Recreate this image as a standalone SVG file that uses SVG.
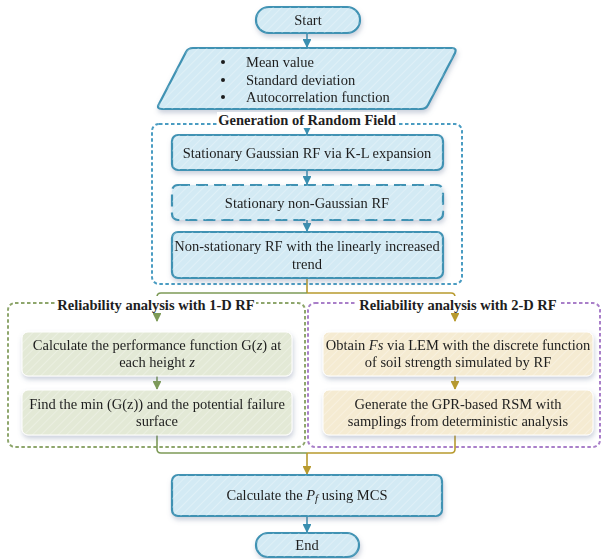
<svg xmlns="http://www.w3.org/2000/svg" width="603" height="559" viewBox="0 0 603 559">
<defs>
<pattern id="hatch" width="6" height="6" patternUnits="userSpaceOnUse" patternTransform="rotate(45)">
<rect width="6" height="6" fill="none"/>
<line x1="0" y1="0" x2="0" y2="6" stroke="#ffffff" stroke-opacity="0.45" stroke-width="1.2"/>
</pattern>
<filter id="sh" x="-10%" y="-20%" width="120%" height="150%">
<feGaussianBlur in="SourceAlpha" stdDeviation="2.5"/>
<feOffset dx="1" dy="2.5" result="b"/>
<feFlood flood-color="#6a7a9a" flood-opacity="0.35"/>
<feComposite in2="b" operator="in"/>
<feMerge><feMergeNode/><feMergeNode in="SourceGraphic"/></feMerge>
</filter>
<marker id="ab" viewBox="0 0 10 10" refX="9" refY="5" markerWidth="5.5" markerHeight="5.5" orient="auto"><path d="M0,0 L10,5 L0,10 z" fill="#3a8fb0"/></marker>
<marker id="ag" viewBox="0 0 10 10" refX="9" refY="5" markerWidth="5.5" markerHeight="5.5" orient="auto"><path d="M0,0 L10,5 L0,10 z" fill="#7d9a57"/></marker>
<marker id="ay" viewBox="0 0 10 10" refX="9" refY="5" markerWidth="5.5" markerHeight="5.5" orient="auto"><path d="M0,0 L10,5 L0,10 z" fill="#b89a2e"/></marker>
</defs>
<style>
text{font-family:"Liberation Serif","Times New Roman",serif;font-size:14.5px;fill:#1e1e1e;}
.c{text-anchor:middle;}
.t{font-weight:bold;}
.blue{fill:#d3eaf4;stroke:#3f92b3;stroke-width:2.2;}
.green{fill:#e3e9d6;stroke:#ffffff;stroke-width:1;}
.gold{fill:#f5ebd2;stroke:#ffffff;stroke-width:1;}
.hat{fill:url(#hatch);stroke:none;pointer-events:none;}
.cont{fill:none;stroke-width:2;stroke-dasharray:3.5 2.5;}
.lb{fill:none;stroke:#3f92b3;stroke-width:1.6;}
.lg{fill:none;stroke:#7d9a57;stroke-width:1.6;}
.ly{fill:none;stroke:#b89a2e;stroke-width:1.6;}
</style>

<g id="containers">
<rect id="grf" x="152" y="124" width="310" height="160" rx="7" class="cont" stroke="#4a9cc2"/>
<rect id="rel1" x="8" y="303" width="297" height="144" rx="7" class="cont" stroke="#8ea66c"/>
<rect id="rel2" x="308" y="303" width="292" height="144" rx="7" class="cont" stroke="#a97fc9"/>
</g>

<g id="connectors">
<line x1="307" y1="33" x2="307" y2="47" class="lb" marker-end="url(#ab)"/>
<line x1="307" y1="127" x2="307" y2="134" class="lb" marker-end="url(#ab)"/>
<line x1="307" y1="170" x2="307" y2="184" class="lb" marker-end="url(#ab)"/>
<line x1="307" y1="220" x2="307" y2="231" class="lb" marker-end="url(#ab)"/>
<line x1="307" y1="278" x2="307" y2="293" class="ly"/>
<path d="M307,293 H161 Q157,293 157,297 V303" class="lg"/>
<path d="M307,293 H451 Q455,293 455,297 V303" class="ly"/>
<line x1="157" y1="313" x2="157" y2="321" class="lg" marker-end="url(#ag)"/>
<line x1="455" y1="313" x2="455" y2="321" class="ly" marker-end="url(#ay)"/>
<line x1="157" y1="376" x2="157" y2="389" class="lg" marker-end="url(#ag)"/>
<line x1="455" y1="376" x2="455" y2="389" class="ly" marker-end="url(#ay)"/>
<path d="M157,435 V449 Q157,453 161,453 H307" class="lg"/>
<path d="M455,435 V449 Q455,453 451,453 H307" class="ly"/>
<line x1="307" y1="453" x2="307" y2="474" class="ly" marker-end="url(#ay)"/>
<line x1="307" y1="516" x2="307" y2="532" class="lb" marker-end="url(#ab)"/>
</g>

<g id="start" filter="url(#sh)">
<rect x="256" y="7" width="104" height="26" rx="13" class="blue"/>
<rect x="256" y="7" width="104" height="26" rx="13" class="hat"/>
<text x="308" y="25" class="c">Start</text>
</g>

<g id="input" filter="url(#sh)">
<path d="M193,48 H452 Q457,48 455,53 L428,105 Q426,109 421,109 H162 Q156,109 159,104 L186,52 Q188,48 193,48 Z" class="blue" stroke-width="1.8"/>
<path d="M193,48 H452 Q457,48 455,53 L428,105 Q426,109 421,109 H162 Q156,109 159,104 L186,52 Q188,48 193,48 Z" class="hat"/>
<circle cx="223" cy="62" r="2" fill="#1e1e1e"/>
<circle cx="223" cy="80" r="2" fill="#1e1e1e"/>
<circle cx="223" cy="97" r="2" fill="#1e1e1e"/>
<text x="246" y="67">Mean value</text>
<text x="246" y="85">Standard deviation</text>
<text x="246" y="102">Autocorrelation function</text>
</g>

<g id="grf-title">
<rect x="217" y="112" width="180" height="16" fill="#ffffff"/>
<text x="307" y="125" class="c t">Generation of Random Field</text>
</g>

<g id="kl" filter="url(#sh)">
<rect x="172" y="135" width="271" height="35" rx="6" class="blue"/>
<rect x="172" y="135" width="271" height="35" rx="6" class="hat"/>
<text x="307" y="158" class="c">Stationary Gaussian RF via K-L expansion</text>
</g>

<g id="nongauss" filter="url(#sh)">
<rect x="172" y="185" width="271" height="35" rx="6" class="blue" stroke-dasharray="12 6"/>
<rect x="172" y="185" width="271" height="35" rx="6" class="hat"/>
<text x="307" y="208" class="c">Stationary non-Gaussian RF</text>
</g>

<g id="nonstat" filter="url(#sh)">
<rect x="172" y="232" width="271" height="46" rx="6" class="blue"/>
<rect x="172" y="232" width="271" height="46" rx="6" class="hat"/>
<text x="307" y="251" class="c">Non-stationary RF with the linearly increased</text>
<text x="307" y="269" class="c">trend</text>
</g>

<g id="rel1-title">
<rect x="56" y="296" width="200" height="16" fill="#ffffff"/>
<text x="156" y="310" class="c t">Reliability analysis with 1-D RF</text>
</g>

<g id="rel2-title">
<rect x="357" y="296" width="202" height="16" fill="#ffffff"/>
<text x="458" y="310" class="c t">Reliability analysis with 2-D RF</text>
</g>

<g id="perf" filter="url(#sh)">
<rect x="22" y="332" width="270" height="44" rx="6" class="green"/>
<rect x="22" y="332" width="270" height="44" rx="6" class="hat"/>
<text x="157" y="350" class="c">Calculate the performance function G(<tspan font-style="italic">z</tspan>) at</text>
<text x="157" y="367" class="c">each height <tspan font-style="italic">z</tspan></text>
</g>

<g id="min" filter="url(#sh)">
<rect x="22" y="390" width="270" height="45" rx="6" class="green"/>
<rect x="22" y="390" width="270" height="45" rx="6" class="hat"/>
<text x="157" y="409" class="c">Find the min (G(z)) and the potential failure</text>
<text x="157" y="426" class="c">surface</text>
</g>

<g id="fs" filter="url(#sh)">
<rect x="323" y="332" width="270" height="44" rx="6" class="gold"/>
<rect x="323" y="332" width="270" height="44" rx="6" class="hat"/>
<text x="458" y="350" class="c">Obtain <tspan font-style="italic">Fs</tspan> via LEM with the discrete function</text>
<text x="458" y="367" class="c">of soil strength simulated by RF</text>
</g>

<g id="gpr" filter="url(#sh)">
<rect x="323" y="390" width="270" height="45" rx="6" class="gold"/>
<rect x="323" y="390" width="270" height="45" rx="6" class="hat"/>
<text x="458" y="409" class="c">Generate the GPR-based RSM with</text>
<text x="458" y="426" class="c">samplings from deterministic analysis</text>
</g>

<g id="mcs" filter="url(#sh)">
<rect x="172" y="475" width="270" height="41" rx="6" class="blue"/>
<rect x="172" y="475" width="270" height="41" rx="6" class="hat"/>
<text x="307" y="500" class="c">Calculate the <tspan font-style="italic">P<tspan font-size="11" dy="2">f</tspan></tspan><tspan dy="-2"> using MCS</tspan></text>
</g>

<g id="end" filter="url(#sh)">
<rect x="256" y="533" width="103" height="24" rx="12" class="blue"/>
<rect x="256" y="533" width="103" height="24" rx="12" class="hat"/>
<text x="307" y="550" class="c">End</text>
</g>
</svg>
